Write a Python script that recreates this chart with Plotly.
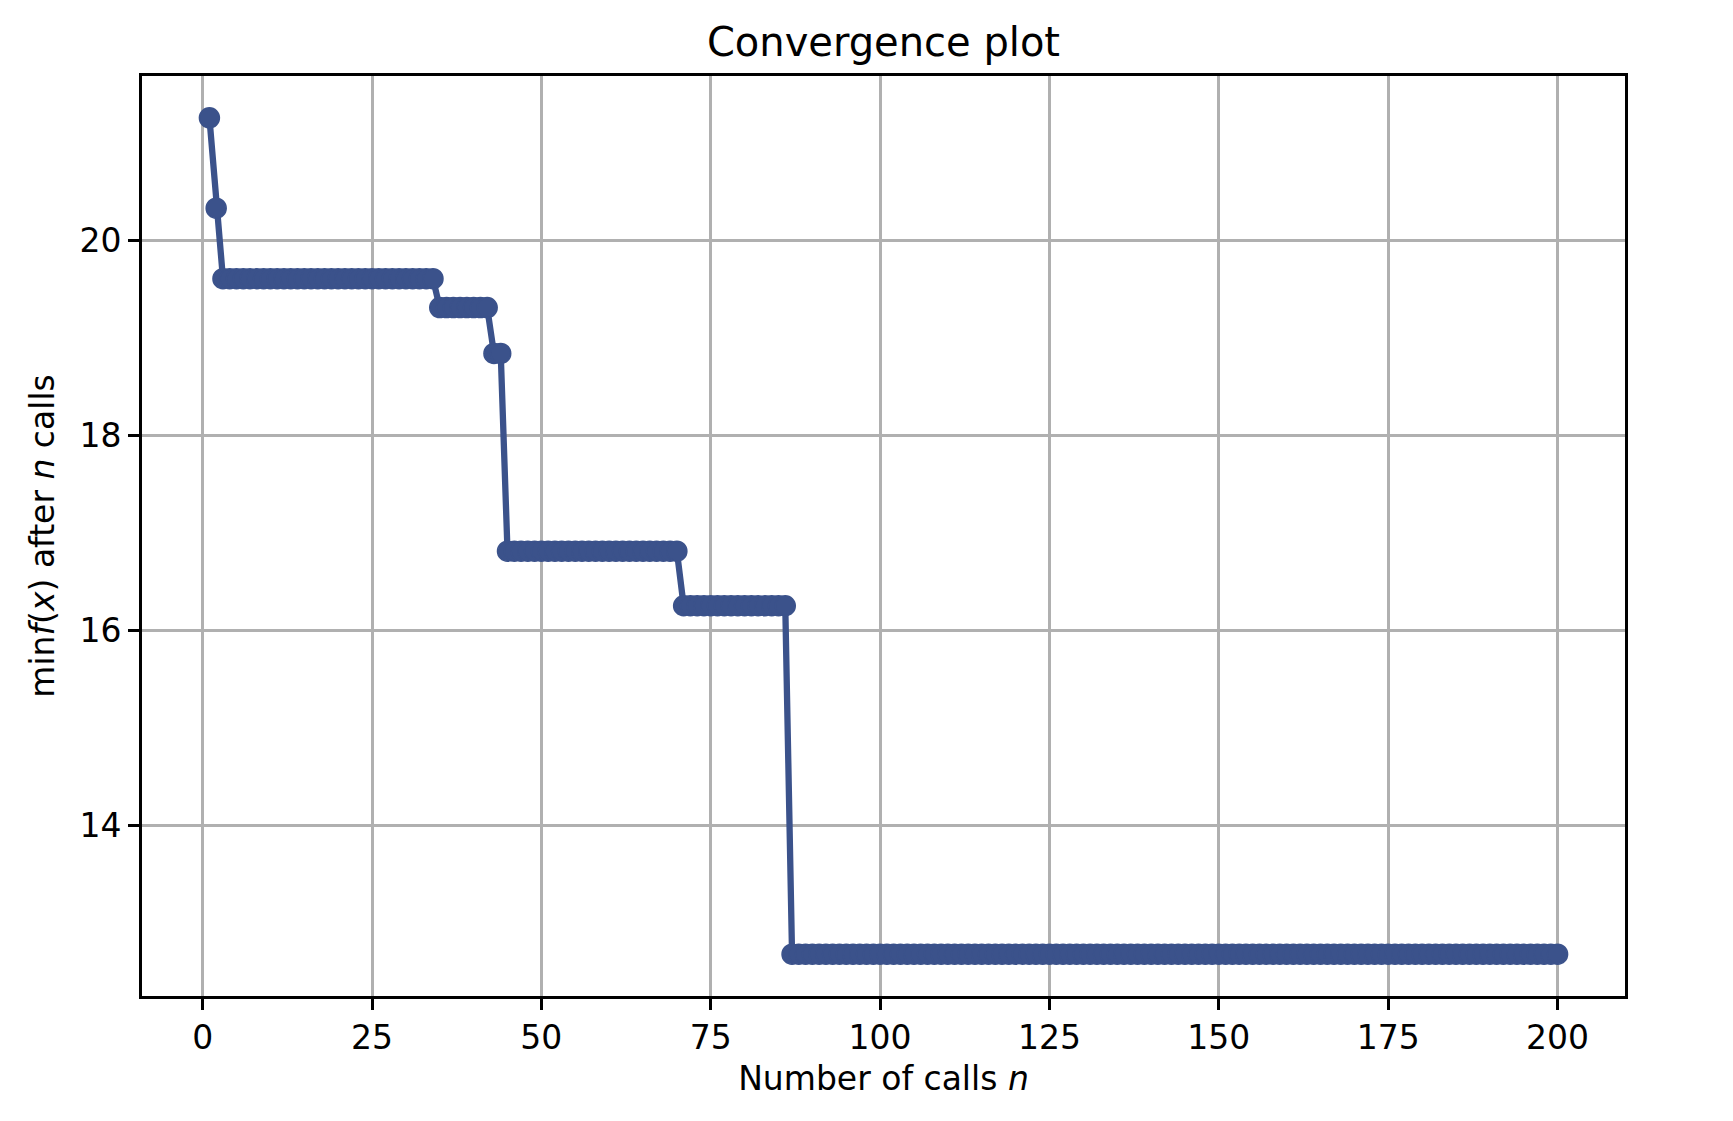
import plotly.graph_objects as go

# convergence data: best value so far after n calls
calls = list(range(1, 201))
step_values = [21.258, 20.33, 19.607, 19.31, 18.84, 16.81, 16.25, 12.674]
step_lengths = [1, 1, 32, 8, 2, 26, 16, 114]

x_ticks = [0, 25, 50, 75, 100, 125, 150, 175, 200]
y_ticks = [14, 16, 18, 20]

min_values = []
for v, k in zip(step_values, step_lengths):
    min_values += [v] * k

color = '#3b528b'
font = 'DejaVu Sans'

fig = go.Figure(data=[go.Scatter(
    x=calls,
    y=min_values,
    mode='lines+markers',
    line=dict(color=color, width=6.3),
    marker=dict(color=color, size=20, line=dict(color=color, width=1.5)),
    showlegend=False)])

axis_style = dict(
    showline=True, mirror=True, linecolor='black', linewidth=2.6,
    showgrid=True, gridcolor='#b0b0b0', gridwidth=2.6,
    zeroline=False, ticks='outside', ticklen=11, tickwidth=2.6,
    tickcolor='black', tickfont=dict(family=font, size=33, color='black'))

fig.update_layout(
    width=1733, height=1121,
    margin=dict(l=142, r=108, t=76, b=125),
    paper_bgcolor='white', plot_bgcolor='white',
    font=dict(family=font, color='black'),
    # title is centred over the axes, like matplotlib does
    title=dict(text='Convergence plot', x=0.5, xref='paper', xanchor='center',
               y=1 - 42 / 1121, yref='container', yanchor='middle',
               font=dict(size=40, family=font, color='black')),
    xaxis=dict(range=[-8.95, 209.95], tickvals=x_ticks,
               title=dict(text='Number of calls <i>n</i>', standoff=11,
                          font=dict(size=33, family=font)),
               **axis_style),
    yaxis=dict(range=[12.245, 21.687], tickvals=y_ticks,
               title=dict(text='min<i>f</i>(<i>x</i>) after <i>n</i> calls',
                          standoff=16, font=dict(size=33, family=font)),
               **axis_style))

# drop the default page margin so the figure sits at the window's corner
fig.write_html('out.html', config={'displayModeBar': False},
               post_script="document.body.style.margin='0';")
